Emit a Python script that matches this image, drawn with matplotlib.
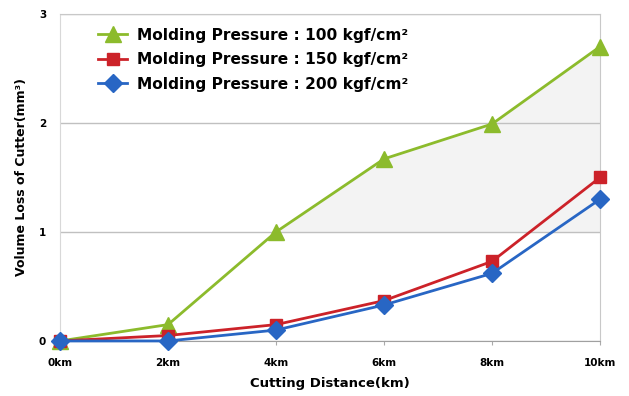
import numpy as np
import matplotlib.pyplot as plt

plt.rcParams['font.family'] = ['DejaVu Sans']

dist = [0, 2, 4, 6, 8, 10]
dist_labels = ['0km', '2km', '4km', '6km', '8km', '10km']
p100 = [0.0, 0.15, 1.0, 1.67, 1.99, 2.70]
p150 = [0.0, 0.05, 0.15, 0.37, 0.73, 1.50]
p200 = [0.0, 0.0, 0.10, 0.33, 0.62, 1.30]

fig = plt.figure(figsize=(6.29, 3.96), dpi=100)
ax = fig.add_axes([0.0954, 0.139, 0.8586, 0.826])

x = np.array(dist, dtype=float)
g = np.array(p100)
ax.fill_between(x, 1, g, where=g >= 1, color='#f3f3f3', zorder=1)

ax.plot(dist, p100, color='#8cbb2c', lw=2, marker='^', ms=11, clip_on=False, zorder=5,
		label='Molding Pressure : 100 kgf/cm²')
ax.plot(dist, p150, color='#cc2229', lw=2, marker='s', ms=9, clip_on=False, zorder=5,
		label='Molding Pressure : 150 kgf/cm²')
ax.plot(dist, p200, color='#2866c4', lw=2, marker='D', ms=9, clip_on=False, zorder=6,
		label='Molding Pressure : 200 kgf/cm²')

ax.set_xlim(0, 10)
ax.set_ylim(0, 3)
ax.set_xticks(dist)
ax.set_xticklabels(dist_labels, fontsize=7.5, fontweight='bold')
ax.set_yticks([0, 1, 2, 3])
ax.set_yticklabels(['0', '1', '2', '3'], fontsize=7.5, fontweight='bold')
ax.tick_params(axis='y', length=0, pad=10)
ax.tick_params(axis='x', length=3, color='#aaaaaa', pad=9)
ax.grid(axis='y', color='#c0c0c0', lw=1, zorder=0)
for s in ['top', 'right']:
	ax.spines[s].set_color('#c8c8c8')
ax.spines['left'].set_color('#d8d8d8')
ax.spines['bottom'].set_color('#a0a0a0')

ax.set_xlabel('Cutting Distance(km)', fontsize=9.5, fontweight='bold', labelpad=7)
ax.set_ylabel('Volume Loss of Cutter(mm³)', fontsize=9, fontweight='bold', labelpad=8)

leg = ax.legend(loc='upper left', bbox_to_anchor=(0.045, 1.0), frameon=False,
		prop={'size': 11.1, 'weight': 'bold'}, handlelength=1.9, labelspacing=0.62, handletextpad=0.6)

fig.savefig('out.png', dpi=100)
